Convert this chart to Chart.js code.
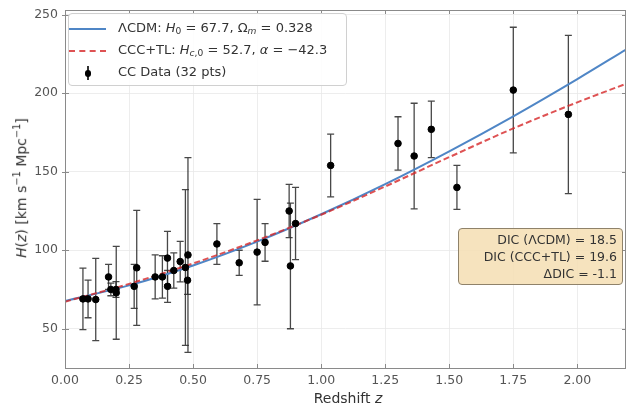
<!DOCTYPE html>
<html>
<head>
<meta charset="utf-8">
<script src="https://cdn.jsdelivr.net/npm/chart.js@4.4.0/dist/chart.umd.min.js"></script>
<style>
body { margin: 0; background: #fff; }
#wrap { position: relative; width: 631px; height: 409px; font-family: 'DejaVu Sans', sans-serif; color: #333; }
#chart { position: absolute; left: 0; top: 0; }
.ytitle { position: absolute; left: 20px; top: 188px; transform: translate(-50%, -50%) rotate(-90deg); font-size: 14px; white-space: nowrap; color: #333; }
.xtitle { position: absolute; left: 348px; top: 398px; transform: translate(-50%, -50%); font-size: 14px; white-space: nowrap; color: #333; }
.legend { position: absolute; left: 68px; top: 13px; width: 279px; height: 73px; background: rgba(255,255,255,0.85); border: 1px solid #d0d0d0; border-radius: 4px; box-sizing: border-box; font-size: 13px; }
.row { position: absolute; left: 0; height: 20px; width: 100%; }
.row span.txt { position: absolute; left: 49px; top: 2px; white-space: nowrap; }
.sw { position: absolute; left: 0px; top: 10px; width: 37px; }
.sub { font-size: 70%; vertical-align: -0.25em; }
.dic { position: absolute; left: 458px; top: 228px; width: 165px; height: 57px; background: rgba(245,222,179,0.85); border: 1px solid #8f826a; border-radius: 4px; box-sizing: border-box; font-size: 12.5px; text-align: right; padding: 2px 5px 0 0; line-height: 17px; color: #333; }
</style>
</head>
<body>
<div id="wrap">
  <canvas id="chart" width="631" height="409"></canvas>
  <div class="ytitle"><i>H</i>(<i>z</i>) [km s<sup style="font-size:70%">−1</sup> Mpc<sup style="font-size:70%">−1</sup>]</div>
  <div class="xtitle">Redshift <i>z</i></div>
  <div class="legend">
    <div class="row" style="top:4px">
      <div class="sw" style="left:0;border-top:2px solid #4f86c6"></div>
      <span class="txt">ΛCDM: <i>H</i><span class="sub">0</span> = 67.7, Ω<span class="sub"><i>m</i></span> = 0.328</span>
    </div>
    <div class="row" style="top:26px">
      <div class="sw" style="left:0;border-top:2px dashed rgba(214,39,40,0.8)"></div>
      <span class="txt">CCC+TL: <i>H</i><span class="sub"><i>c</i>,0</span> = 52.7, <i>α</i> = −42.3</span>
    </div>
    <div class="row" style="top:48px">
      <div style="position:absolute;left:18px;top:4px;width:1.5px;height:14px;background:#333"></div>
      <div style="position:absolute;left:15.5px;top:8px;width:6.5px;height:6.5px;border-radius:50%;background:#000"></div>
      <span class="txt">CC Data (32 pts)</span>
    </div>
  </div>
  <div class="dic">DIC (ΛCDM) = 18.5<br>DIC (CCC+TL) = 19.6<br>ΔDIC = -1.1</div>
</div>
<script>
// donnees CC (32 points)
const zData = [0.07, 0.09, 0.12, 0.17, 0.179, 0.199, 0.20, 0.27, 0.28, 0.352, 0.3802, 0.40, 0.4004, 0.4247, 0.4497, 0.47,
               0.4783, 0.48, 0.593, 0.68, 0.75, 0.781, 0.875, 0.88, 0.90, 1.037, 1.30, 1.363, 1.43, 1.53, 1.75, 1.965];
const hData = [69.0, 69.0, 68.6, 83.0, 75.0, 75.0, 72.9, 77.0, 88.8, 83.0, 83.0, 95.0, 77.0, 87.1, 92.8, 89.0,
               80.9, 97.0, 104.0, 92.0, 98.8, 105.0, 125.0, 90.0, 117.0, 154.0, 168.0, 160.0, 177.0, 140.0, 202.0, 186.5];
const hErr  = [19.6, 12.0, 26.2, 8.0, 4.0, 5.0, 29.6, 14.0, 36.6, 14.0, 13.5, 17.0, 10.2, 11.2, 12.9, 49.6,
               9.0, 62.0, 13.0, 8.0, 33.6, 12.0, 17.0, 40.0, 23.0, 20.0, 17.0, 33.6, 18.0, 14.0, 40.0, 50.4];

// courbes des modeles
const zCurve = [0, 0.25, 0.5, 0.75, 1.0, 1.25, 1.5, 1.75, 2.0, 2.19];
const hLcdm  = [67.7, 77.6, 90.3, 105.5, 122.9, 142.1, 163.0, 185.3, 209.0, 227.8];
const hCcc   = [67.2, 78.6, 91.6, 106.3, 122.6, 140.6, 159.3, 177.6, 194.2, 206.0];

const xTicks = [0, 0.25, 0.5, 0.75, 1.0, 1.25, 1.5, 1.75, 2.0];
const yTicks = [50, 100, 150, 200, 250];

const errorBars = {
    id: 'errorBars',
    beforeDatasetsDraw(chart) {
        const { ctx, chartArea: a, scales: { x, y } } = chart;
        ctx.save();
        ctx.beginPath();
        ctx.rect(a.left, a.top, a.right - a.left, a.bottom - a.top);
        ctx.clip();
        ctx.strokeStyle = 'rgba(40,40,40,0.85)';
        ctx.lineWidth = 1.3;
        zData.forEach((z, i) => {
            const px = x.getPixelForValue(z);
            const lo = y.getPixelForValue(hData[i] - hErr[i]);
            const hi = y.getPixelForValue(hData[i] + hErr[i]);
            ctx.beginPath();
            ctx.moveTo(px, lo); ctx.lineTo(px, hi);
            ctx.moveTo(px - 3.5, lo); ctx.lineTo(px + 3.5, lo);
            ctx.moveTo(px - 3.5, hi); ctx.lineTo(px + 3.5, hi);
            ctx.stroke();
        });
        ctx.restore();
    }
};

// cadre + graduations vers l'interieur
const frame = {
    id: 'frame',
    afterDraw(chart) {
        const { ctx, chartArea: a, scales: { x, y } } = chart;
        ctx.save();
        ctx.strokeStyle = '#8a8a8a';
        ctx.lineWidth = 1;
        ctx.strokeRect(a.left + 0.5, a.top + 0.5, a.right - a.left - 1, a.bottom - a.top);
        ctx.beginPath();
        xTicks.forEach(v => {
            const px = Math.round(x.getPixelForValue(v)) + 0.5;
            ctx.moveTo(px, a.bottom); ctx.lineTo(px, a.bottom - 4);
            ctx.moveTo(px, a.top); ctx.lineTo(px, a.top + 4);
        });
        yTicks.forEach(v => {
            const py = Math.round(y.getPixelForValue(v)) + 0.5;
            ctx.moveTo(a.left - 3, py); ctx.lineTo(a.left + 4, py);
            ctx.moveTo(a.right, py); ctx.lineTo(a.right - 4, py);
        });
        ctx.stroke();
        ctx.restore();
    }
};

new Chart(document.getElementById('chart').getContext('2d'), {
    data: {
        datasets: [
            {
                type: 'line',
                label: 'LCDM',
                data: zCurve.map((z, i) => ({ x: z, y: hLcdm[i] })),
                borderColor: '#4f86c6',
                borderWidth: 2,
                pointRadius: 0,
                cubicInterpolationMode: 'monotone',
                fill: false,
                order: 2
            },
            {
                type: 'line',
                label: 'CCC+TL',
                data: zCurve.map((z, i) => ({ x: z, y: hCcc[i] })),
                borderColor: 'rgba(214,39,40,0.8)',
                borderWidth: 2,
                borderDash: [6, 3],
                pointRadius: 0,
                cubicInterpolationMode: 'monotone',
                fill: false,
                order: 1
            },
            {
                type: 'scatter',
                label: 'CC Data',
                data: zData.map((z, i) => ({ x: z, y: hData[i] })),
                backgroundColor: '#000',
                borderColor: '#000',
                pointRadius: 3.3,
                order: 0
            }
        ]
    },
    options: {
        responsive: false,
        animation: false,
        layout: { padding: { top: 10, right: 0, left: 0, bottom: 0 } },
        plugins: { legend: { display: false }, tooltip: { enabled: false } },
        scales: {
            x: {
                type: 'linear', min: 0, max: 2.19,
                afterBuildTicks: s => { s.ticks = xTicks.map(v => ({ value: v })); },
                afterFit: s => { s.height = 41; s.paddingLeft = 0; s.paddingRight = 0; },
                grid: { color: '#e8e8e8', lineWidth: 0.8, drawTicks: false },
                border: { display: false },
                ticks: { callback: v => v.toFixed(2), color: '#555', padding: 5, maxRotation: 0,
                         font: { family: 'DejaVu Sans', size: 12.5 } }
            },
            y: {
                type: 'linear', min: 25, max: 253,
                afterBuildTicks: s => { s.ticks = yTicks.map(v => ({ value: v })); },
                afterFit: s => { s.width = 65; s.paddingTop = 0; s.paddingBottom = 0; },
                grid: { color: '#e8e8e8', lineWidth: 0.8, drawTicks: false },
                border: { display: false },
                ticks: { color: '#555', padding: 7, font: { family: 'DejaVu Sans', size: 12.5 } }
            }
        }
    },
    plugins: [errorBars, frame]
});
</script>
</body>
</html>
